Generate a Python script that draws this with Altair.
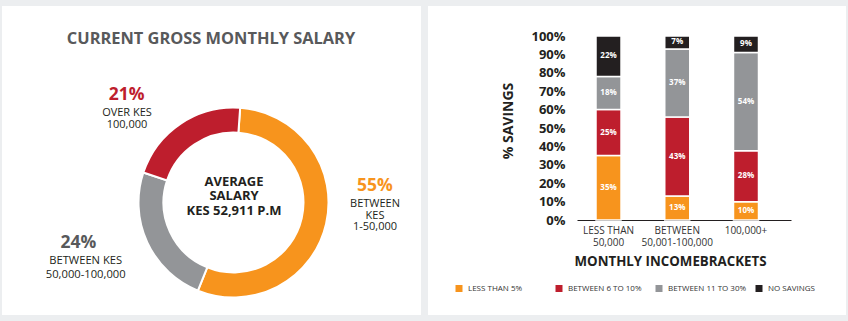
import math
import altair as alt
import pandas as pd

# ---------------- data ----------------
# Left panel: current gross monthly salary (share of respondents, %)
salary_groups = ["BETWEEN KES 1-50,000", "BETWEEN KES 50,000-100,000", "OVER KES 100,000"]
salary_share = [55, 24, 21]
salary_colors = ["#f7941d", "#939598", "#be1e2d"]

# Right panel: % savings by monthly income bracket
brackets = ["LESS THAN|50,000", "BETWEEN|50,001-100,000", "100,000+"]
saving_levels = ["LESS THAN 5%", "BETWEEN 6 TO 10%", "BETWEEN 11 TO 30%", "NO SAVINGS"]
less_than_5 = [35, 13, 10]
between_6_10 = [25, 43, 28]
between_11_30 = [18, 37, 54]
no_savings = [22, 7, 9]
saving_colors = ["#f7941d", "#be1e2d", "#939598", "#231f20"]
y_ticks = [0, 0.1, 0.2, 0.3, 0.4, 0.5, 0.6, 0.7, 0.8, 0.9, 1.0]

# Annotation text for the donut panel:
# (lines, x, y of first line, colour, size, bold, line height)
donut_text = [
    (["CURRENT GROSS MONTHLY SALARY"], 209, 32.5, "#58595b", 16.4, True, 16),
    (["21%"], 124.7, 89, "#be1e2d", 17.5, True, 16),
    (["OVER KES", "100,000"], 125, 107.3, "#231f20", 11, False, 11.9),
    (["55%"], 373, 180, "#f7941d", 17.5, True, 16),
    (["BETWEEN", "KES", "1-50,000"], 373, 198, "#231f20", 11, False, 11.5),
    (["24%"], 76.3, 236.7, "#58595b", 17.5, True, 16),
    (["BETWEEN KES", "50,000-100,000"], 83.7, 255, "#231f20", 11.2, False, 14),
    (["AVERAGE", "SALARY", "KES 52,911 P.M"], 232, 175.7, "#231f20", 13, True, 14.7),
]

FONT = "Open Sans"
PANEL_W_L, PANEL_W_R, PANEL_H = 419, 418, 309

# ---------------- left panel ----------------
sal_df = pd.DataFrame({"group": salary_groups, "share": salary_share,
                       "idx": list(range(len(salary_groups)))})
start = 0.07
donut = alt.Chart(sal_df).mark_arc(innerRadius=70, outerRadius=95,
                                   stroke="white", strokeWidth=2).encode(
    theta=alt.Theta("share:Q", stack=True,
                    scale=alt.Scale(range=[start, start + 2 * math.pi])),
    color=alt.Color("group:N", scale=alt.Scale(domain=salary_groups, range=salary_colors),
                    legend=None),
    order=alt.Order("idx:Q"),
    x=alt.value(231.5), y=alt.value(196.5),
)

txt_df = pd.DataFrame(donut_text, columns=["t", "x", "y", "c", "s", "b", "lh"])
txt_df["k"] = list(range(len(txt_df)))

text_layers = []
for k, row in txt_df.iterrows():
    text_layers.append(
        alt.Chart(txt_df).transform_filter(f"datum.k == {k}").mark_text(
            font=FONT, fontWeight="bold" if row["b"] else "normal",
            align="center", baseline="middle", lineHeight=float(row["lh"])
        ).encode(
            x=alt.X("x:Q", scale=None), y=alt.Y("y:Q", scale=None),
            text="t", color=alt.Color("c:N", scale=None),
            size=alt.Size("s:Q", scale=None),
        )
    )

left = alt.layer(donut, *text_layers).properties(width=PANEL_W_L, height=PANEL_H)

# ---------------- right panel ----------------
series = [less_than_5, between_6_10, between_11_30, no_savings]
rows = []
for i, b in enumerate(brackets):
    for j, lvl in enumerate(saving_levels):
        rows.append({"bracket": b, "level": lvl, "order": j, "value": series[j][i]})
sav_df = pd.DataFrame(rows)

base = alt.Chart(sav_df).transform_stack(
    stack="value", groupby=["bracket"], sort=[alt.SortField("order", "ascending")],
    as_=["y0", "y1"], offset="normalize",
).transform_calculate(mid="(datum.y0 + datum.y1) / 2", lab="datum.value + '%'")

x_axis = alt.Axis(orient="bottom", offset=-95, ticks=False, domain=True,
                  domainColor="#231f20", domainWidth=1, grid=False,
                  labelExpr="split(datum.label, '|')", labelAngle=0,
                  labelFont=FONT, labelFontSize=10, labelColor="#333333",
                  labelPadding=5, labelLineHeight=12, labelOverlap=False,
                  title="MONTHLY INCOMEBRACKETS", titleFont=FONT,
                  titleFontSize=13.3, titleFontWeight="bold", titleColor="#231f20",
                  titleX=242, titleY=41.5, titleBaseline="middle", titleAlign="center")
x_scale = alt.Scale(range=[149, 363], paddingInner=0.636, paddingOuter=0.3745, align=0.369)

y_axis = alt.Axis(orient="left", offset=-140, values=y_ticks, format=".0%",
                  ticks=False, domain=False, grid=False, labelPadding=3,
                  labelOverlap=False, labelFont=FONT, labelFontSize=13,
                  labelFontWeight="bold", labelColor="#231f20",
                  title="% SAVINGS", titleFont=FONT, titleFontSize=14,
                  titleFontWeight="bold", titleColor="#231f20",
                  titleX=-60, titleY=114.5, titleAngle=-90, titleAlign="center",
                  titleBaseline="middle")
y_scale = alt.Scale(domain=[0, 1], range=[214, 30])

bars = base.mark_bar(stroke="white", strokeWidth=1.5).encode(
    x=alt.X("bracket:N", sort=brackets, scale=x_scale, axis=x_axis),
    y=alt.Y("y0:Q", scale=y_scale, axis=y_axis),
    y2="y1:Q",
    color=alt.Color("level:N",
                    scale=alt.Scale(domain=saving_levels, range=saving_colors),
                    legend=alt.Legend(orient="none", legendX=27, legendY=278.5,
                                      direction="horizontal", columns=4, gridAlign="all",
                                      columnPadding=8, title=None, symbolType="square",
                                      symbolSize=49, symbolStrokeWidth=0, symbolOpacity=1,
                                      labelFont=FONT, labelFontSize=8, labelColor="#333333",
                                      labelOffset=5)),
    order=alt.Order("order:Q"),
)

labels = base.mark_text(font=FONT, fontWeight="bold", fontSize=8, color="white",
                        baseline="middle").encode(
    x=alt.X("bracket:N", sort=brackets, scale=x_scale, axis=x_axis),
    y=alt.Y("mid:Q", scale=y_scale, axis=y_axis),
    text="lab:N",
)

right = alt.layer(bars, labels).properties(width=PANEL_W_R, height=PANEL_H)

chart = alt.hconcat(left, right, spacing=7).resolve_scale(
    color="independent"
).resolve_legend(color="independent").properties(
    padding={"left": 2, "top": 6, "right": 2, "bottom": 6},
    background="#eceef0",
).configure_view(fill="white", stroke=None).configure_concat(spacing=7)

chart.save("out.html", embed_options={"renderer": "svg", "actions": False})
